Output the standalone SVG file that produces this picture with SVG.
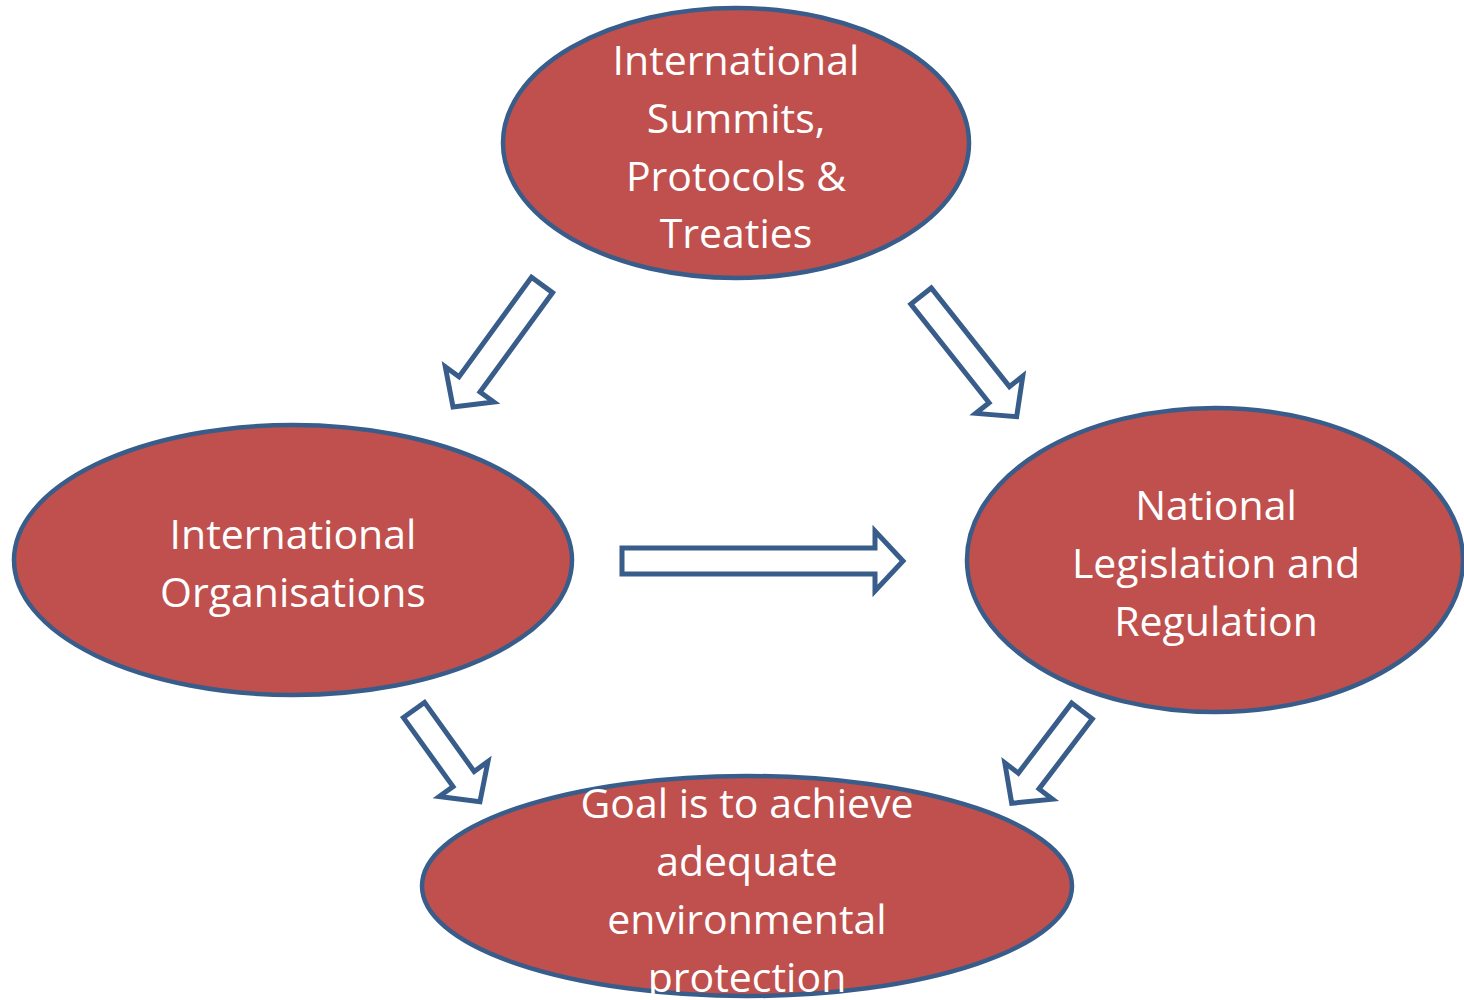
<svg xmlns="http://www.w3.org/2000/svg" width="1464" height="1000" viewBox="0 0 1464 1000">
<defs>
<style>
.node ellipse{fill:#C0504D;stroke:#385D8A;stroke-width:4.5}
.node text{fill:#fff;font-family:"Open Sans","Liberation Sans",sans-serif;font-size:41px;text-anchor:middle}
.arrow{fill:#fff;stroke:#385D8A;stroke-width:5;stroke-linejoin:miter}
</style>
</defs>
<rect width="1464" height="1000" fill="#fff"/>
<g id="connectors">
<path class="arrow" transform="translate(622,561) rotate(0)" d="M0,-13 H253 V-30 L281,0 L253,30 V13 H0 Z"/>
<path class="arrow" transform="translate(542,285) rotate(126.1)" d="M0,-13 H123 V-30 L151,0 L123,30 V13 H0 Z"/>
<path class="arrow" transform="translate(921,296) rotate(51.6)" d="M0,-13 H126 V-30 L154,0 L126,30 V13 H0 Z"/>
<path class="arrow" transform="translate(414,710) rotate(54.3)" d="M0,-13 H85 V-30 L113,0 L85,30 V13 H0 Z"/>
<path class="arrow" transform="translate(1082,711) rotate(127.3)" d="M0,-13 H88 V-30 L116,0 L88,30 V13 H0 Z"/>
</g>
<g id="node-summits" class="node">
<ellipse cx="736" cy="143" rx="233" ry="135"/>
<text x="736" y="75">International</text>
<text x="736" y="133">Summits,</text>
<text x="736" y="191">Protocols &amp;</text>
<text x="736" y="248">Treaties</text>
</g>
<g id="node-orgs" class="node">
<ellipse cx="293" cy="560" rx="279" ry="135"/>
<text x="293" y="549">International</text>
<text x="293" y="607">Organisations</text>
</g>
<g id="node-national" class="node">
<ellipse cx="1215" cy="560" rx="248" ry="152"/>
<text x="1216" y="520">National</text>
<text x="1216" y="578">Legislation and</text>
<text x="1216" y="636">Regulation</text>
</g>
<g id="node-goal" class="node">
<ellipse cx="747" cy="886" rx="325" ry="110"/>
<text x="747" y="818">Goal is to achieve</text>
<text x="747" y="876">adequate</text>
<text x="747" y="934">environmental</text>
<text x="747" y="992">protection</text>
</g>
</svg>
